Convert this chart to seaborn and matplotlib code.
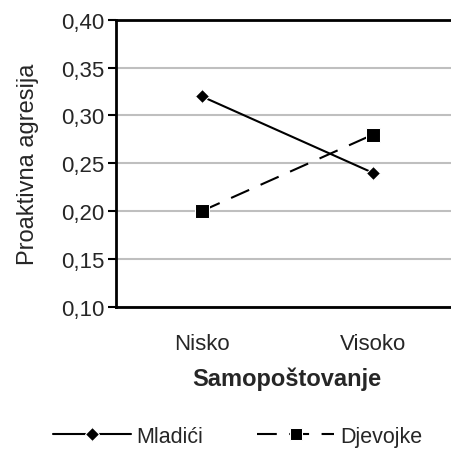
import matplotlib
matplotlib.use('Agg')
import matplotlib.pyplot as plt
import pandas as pd
import seaborn as sns

categories = ['Nisko', 'Visoko']
mladici = [0.32, 0.24]
djevojke = [0.20, 0.28]
y_ticks = [0.10, 0.15, 0.20, 0.25, 0.30, 0.35, 0.40]
y_tick_labels = ['0,10', '0,15', '0,20', '0,25', '0,30', '0,35', '0,40']

df = pd.DataFrame({
    'Samopoštovanje': categories * 2,
    'Proaktivna agresija': mladici + djevojke,
    'spol': ['Mladići'] * 2 + ['Djevojke'] * 2,
})

sns.set_style('white')
plt.rcParams['font.family'] = ['Liberation Sans', 'DejaVu Sans']
plt.rcParams['font.size'] = 16

fig = plt.figure(figsize=(4.51, 4.52), dpi=100)
ax = fig.add_axes([0.257, 0.319, 0.76, 0.635])

sns.lineplot(
    data=df, x='Samopoštovanje', y='Proaktivna agresija',
    hue='spol', style='spol',
    palette={'Mladići': 'black', 'Djevojke': 'black'},
    markers={'Mladići': 'D', 'Djevojke': 's'},
    dashes={'Mladići': '', 'Djevojke': (9.5, 6)},
    markersize=9.5, linewidth=1.5, ax=ax,
)
for line in ax.lines:
    if line.get_marker() == 'D':
        line.set_markersize(7.5)

ax.set_xlim(-0.5, 1.5)
ax.set_ylim(0.10, 0.40)
ax.set_yticks(y_ticks)
ax.set_yticklabels(y_tick_labels, fontsize=16)
ax.tick_params(axis='y', left=True, length=6, width=1.5, color='black', pad=2)
ax.tick_params(axis='x', bottom=False, labelsize=16, pad=15)
ax.yaxis.grid(True, color='#bfbfbf', linewidth=1.5)
ax.set_axisbelow(True)
for side in ['left', 'top', 'bottom', 'right']:
    ax.spines[side].set_color('black')
    ax.spines[side].set_linewidth(2)
ax.set_xlabel('Samopoštovanje', fontsize=17, fontweight='bold', labelpad=9)
ax.set_ylabel('Proaktivna agresija', fontsize=17, labelpad=16)

handles, labels = ax.get_legend_handles_labels()
for h in handles:
    if h.get_marker() == 'D':
        h.set_markersize(7.5)
    else:
        h.set_markersize(8)
ax.legend(handles, labels, loc='center', bbox_to_anchor=(0.527, 0.033),
          bbox_transform=fig.transFigure, ncol=2, frameon=False,
          fontsize=15.5, handlelength=3.6, columnspacing=2.5, handletextpad=0.25)

fig.savefig('out.png', dpi=100)
